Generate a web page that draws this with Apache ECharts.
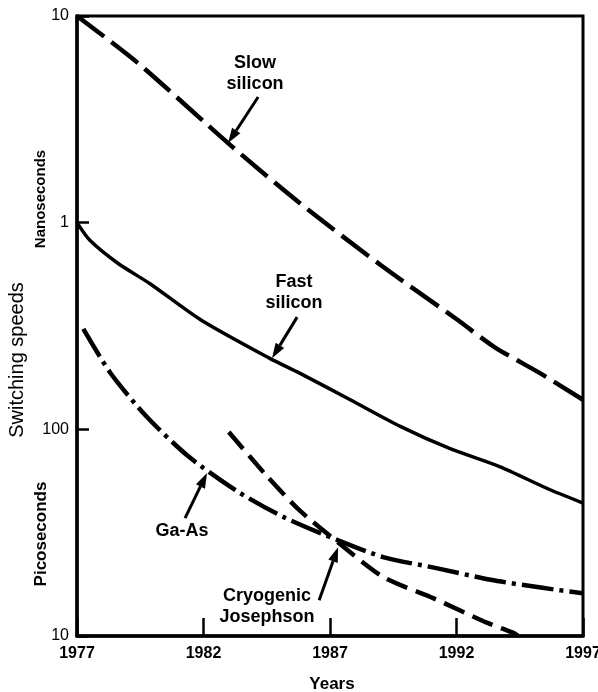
<!DOCTYPE html>
<html><head><meta charset="utf-8">
<script src="https://cdn.jsdelivr.net/npm/echarts@6/dist/echarts.min.js"></script>
<style>html,body{margin:0;padding:0;background:#fff}#c{width:598px;height:692px}</style>
</head><body><div id="c"></div>
<script>
// ---- data (years, switching speed in picoseconds) ----
const xTicks = [1977, 1982, 1987, 1992, 1997];
const yTickLabels = {10: '10', 100: '100', 1000: '1', 10000: '10'};

const slowYears = [1977, 1979.4, 1983.05, 1985.8, 1989, 1992.05, 1993.5, 1995.3, 1997];
const slowPs    = [10000, 5930, 2380, 1245, 624, 338, 250, 187, 139];

const fastYears = [1977, 1977.5, 1978.6, 1979.9, 1981.9, 1984.6, 1985.8, 1987.8, 1989.8, 1991.7, 1993.7, 1995.7, 1997];
const fastPs    = [1000, 824, 638, 505, 338, 221, 187, 139, 103, 81, 66, 51, 44];

const gaasYears = [1977.25, 1978.3, 1979.7, 1981.4, 1983.35, 1985.15, 1987.3, 1989.1, 1991.2, 1993.35, 1995.4, 1997];
const gaasPs    = [306, 189, 117, 74, 50, 37.7, 29.1, 24.1, 21.3, 18.7, 17.1, 16.1];

const josYears = [1983, 1984.5, 1985.8, 1987.3, 1989.1, 1991.1, 1993.2, 1994.25, 1994.45];
const josPs    = [97, 59.5, 40.5, 28.5, 19.3, 15.2, 11.6, 10.35, 10];

// annotations in data space
const notes = [
  {text: 'Slow\nsilicon', at: [1984.04, 5272], tail: [1984.16, 4055], tip: [1982.97, 2427]},
  {text: 'Fast\nsilicon', at: [1985.58, 461], tail: [1985.70, 349], tip: [1984.71, 221]},
  {text: 'Ga-As', at: [1981.15, 32.2], tail: [1981.27, 37.2], tip: [1982.14, 61.5]},
  {text: 'Cryogenic\nJosephson', at: [1984.51, 13.96], tail: [1986.57, 14.9], tip: [1987.32, 26.9]}
];

const zip = (a, b) => a.map((v, i) => [v, b[i]]);
const FONT = 'Liberation Sans, Arial, sans-serif';

const chart = echarts.init(document.getElementById('c'), null, {renderer: 'canvas'});

function lineSeries(name, xs, ys, width, dash) {
  return {
    name, type: 'line', data: zip(xs, ys), showSymbol: false, symbol: 'none',
    smooth: 0.25, silent: true, animation: false,
    lineStyle: {color: '#000', width, type: dash || 'solid', cap: 'butt', join: 'round'}
  };
}

chart.setOption({
  animation: false,
  backgroundColor: '#fff',
  grid: {left: 77, right: 15, top: 16, bottom: 56, show: true, borderColor: '#000', borderWidth: 3,
         containLabel: false, outerBoundsMode: 'none'},
  xAxis: {
    type: 'value', min: 1977, max: 1997, interval: 5,
    axisLine: {show: true, lineStyle: {color: '#000', width: 3.5}},
    axisTick: {show: true, inside: true, length: 18, lineStyle: {color: '#000', width: 2.5}},
    splitLine: {show: false},
    axisLabel: {margin: 10, color: '#000', fontSize: 16, fontWeight: 'bold', fontFamily: FONT,
                formatter: v => String(v), showMinLabel: true, showMaxLabel: true}
  },
  yAxis: {
    type: 'log', logBase: 10, min: 10, max: 10000,
    axisLine: {show: true, lineStyle: {color: '#000', width: 3.5}},
    axisTick: {show: true, inside: true, length: 12, lineStyle: {color: '#000', width: 2.5}},
    minorTick: {show: false}, splitLine: {show: false},
    axisLabel: {margin: 8, color: '#000', fontSize: 16, fontFamily: FONT,
                formatter: v => yTickLabels[Math.round(v)] || '', showMinLabel: true, showMaxLabel: true}
  },
  series: [
    lineSeries('Slow silicon', slowYears, slowPs, 4.5, [34, 9]),
    lineSeries('Fast silicon', fastYears, fastPs, 3.5),
    lineSeries('Ga-As', gaasYears, gaasPs, 4.5, [32, 6, 4, 6]),
    lineSeries('Cryogenic Josephson', josYears, josPs, 4.5, [22, 9])
  ]
});

const px = p => chart.convertToPixel({gridIndex: 0}, p);
const graphics = [];
notes.forEach(n => {
  const c = px(n.at), t = px(n.tail), h = px(n.tip);
  graphics.push({type: 'text', x: c[0], y: c[1], silent: true,
    style: {text: n.text, fill: '#000', font: 'bold 18px ' + FONT, align: 'center', verticalAlign: 'middle', lineHeight: 21}});
  const dx = h[0] - t[0], dy = h[1] - t[1], L = Math.hypot(dx, dy);
  const ux = dx / L, uy = dy / L, hl = 15, hw = 5;
  const bx = h[0] - ux * hl, by = h[1] - uy * hl;
  graphics.push({type: 'line', silent: true, shape: {x1: t[0], y1: t[1], x2: bx, y2: by},
    style: {stroke: '#000', lineWidth: 3}});
  graphics.push({type: 'polygon', silent: true,
    shape: {points: [[h[0], h[1]], [bx - uy * hw, by + ux * hw], [bx + uy * hw, by - ux * hw]]},
    style: {fill: '#000'}});
});
// axis titles
graphics.push({type: 'text', x: 17, y: 360, rotation: Math.PI / 2, silent: true,
  style: {text: 'Switching speeds', fill: '#000', font: '20px ' + FONT, align: 'center', verticalAlign: 'middle'}});
graphics.push({type: 'text', x: 41, y: 199, rotation: Math.PI / 2, silent: true,
  style: {text: 'Nanoseconds', fill: '#000', font: 'bold 15px ' + FONT, align: 'center', verticalAlign: 'middle'}});
graphics.push({type: 'text', x: 41, y: 534, rotation: Math.PI / 2, silent: true,
  style: {text: 'Picoseconds', fill: '#000', font: 'bold 17px ' + FONT, align: 'center', verticalAlign: 'middle'}});
graphics.push({type: 'text', x: 332, y: 684, silent: true,
  style: {text: 'Years', fill: '#000', font: 'bold 17px ' + FONT, align: 'center', verticalAlign: 'middle'}});

chart.setOption({graphic: graphics});
</script></body></html>
